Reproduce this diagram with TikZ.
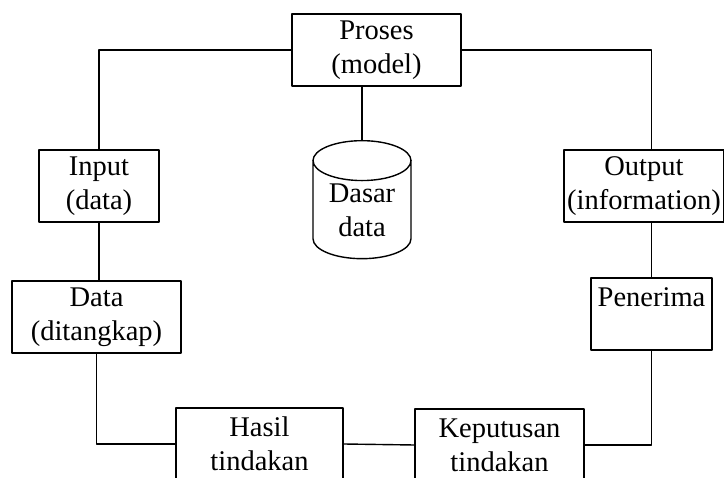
\documentclass[tikz,border=0pt]{standalone}
\usepackage{fontspec}
\setmainfont{Liberation Serif}
\usetikzlibrary{shapes.geometric}
\begin{document}
\begin{tikzpicture}[x=1pt,y=-1pt,line join=round,line cap=rect]
				\tikzset{every node/.style={font=\fontsize{28.5}{34}\selectfont,align=center,inner sep=0pt},
					kotak/.style={draw,line width=1.6pt,minimum height=72pt},
					garis/.style={line width=1.4pt}}
				\useasboundingbox (0,0) rectangle (724,478);
				\clip (0,0) rectangle (724,478);
				\node[kotak,minimum width=169pt] (proses) at (376.5,50) {Proses\\(model)};
				\node[kotak,minimum width=120pt] (input) at (99,186) {Input\\(data)};
				\node[kotak,minimum width=169pt] (data) at (96.5,317) {Data\\(ditangkap)};
				\node[kotak,minimum width=167pt] (hasil) at (259.5,444) {Hasil\\tindakan};
				\node[kotak,minimum width=169pt] (keputusan) at (499.5,445) {Keputusan\\tindakan};
				\node[kotak,minimum width=121pt] (penerima) at (651.5,314) {Penerima\\~};
				\node[kotak,minimum width=160pt] (output) at (644,186) {Output\\(information)};
				\node[draw,line width=1.4pt,shape=cylinder,shape border rotate=90,aspect=0.6,
					minimum width=98pt,minimum height=118pt] (dasar) at (362,210) {Dasar\\data};
				\draw[garis] (proses.west) -| (input.north);
				\draw[garis] (input.south) -- (input.south |- data.north);
				\draw[garis] (data.south) |- (hasil.west);
				\draw[garis] (hasil.east) -- (keputusan.west);
				\draw[garis] (keputusan.east) -| (penerima.south);
				\draw[garis] (penerima.north) -- (penerima.north |- output.south);
				\draw[garis] (penerima.north |- output.north) |- (proses.east);
				\draw[garis] (dasar.north) -- (dasar.north |- proses.south);
			\end{tikzpicture}
\end{document}
